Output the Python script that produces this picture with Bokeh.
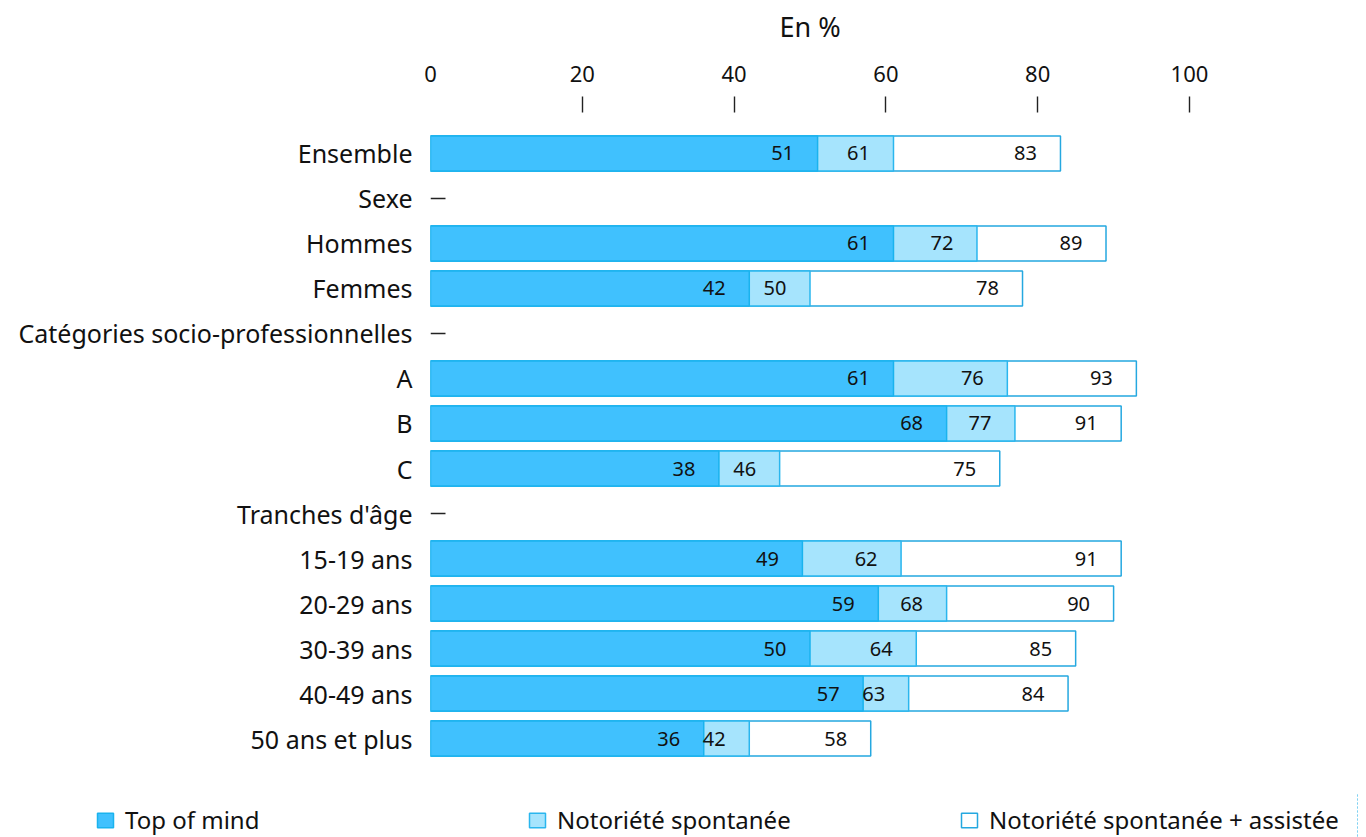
from bokeh.plotting import figure
from bokeh.layouts import column
from bokeh.models import (ColumnDataSource, FactorRange, FixedTicker, Legend, LegendItem,
                          Range1d)
from bokeh.core.properties import value
from bokeh.embed import file_html
from bokeh.resources import INLINE

# ---- data ----
rows = ["Ensemble", "Sexe", "Hommes", "Femmes", "Catégories socio-professionnelles",
        "A", "B", "C", "Tranches d'âge", "15-19 ans", "20-29 ans", "30-39 ans",
        "40-49 ans", "50 ans et plus"]
headers = ["Sexe", "Catégories socio-professionnelles", "Tranches d'âge"]
groups = ["Ensemble", "Hommes", "Femmes", "A", "B", "C", "15-19 ans", "20-29 ans",
          "30-39 ans", "40-49 ans", "50 ans et plus"]
top_of_mind = [51, 61, 42, 61, 68, 38, 49, 59, 50, 57, 36]
spontanee = [61, 72, 50, 76, 77, 46, 62, 68, 64, 63, 42]
assistee = [83, 89, 78, 93, 91, 75, 91, 90, 85, 84, 58]
x_ticks = [0, 20, 40, 60, 80, 100]
series_names = ["Top of mind", "Notoriété spontanée", "Notoriété spontanée + assistée"]

FONT = "Noto Sans"
DARK = "#40c1fe"
DARK_LINE = "#1ab3ee"
LIGHT = "#a6e4fd"
LIGHT_LINE = "#2ab6ee"
WHITE_LINE = "#25a8e0"
W = 1358

src = ColumnDataSource(dict(y=groups, top=top_of_mind, sp=spontanee, tot=assistee))
hdr = ColumnDataSource(dict(y=headers, x=[0] * len(headers)))

p = figure(width=W, height=112 + 667 + 14, output_backend="svg", toolbar_location=None,
           x_range=Range1d(x_ticks[0], x_ticks[-1]),
           y_range=FactorRange(*reversed(rows), range_padding=0.411,
                               range_padding_units="absolute"),
           x_axis_location="above",
           min_border_left=430, min_border_right=W - 430 - 759, min_border_top=112,
           min_border_bottom=14)
p.outline_line_color = None
p.xgrid.visible = False
p.ygrid.visible = False

styles = {"top": (DARK, DARK_LINE), "sp": (LIGHT, LIGHT_LINE), "tot": ("white", WHITE_LINE)}
for col in ["tot", "sp", "top"]:
    fc, lc = styles[col]
    p.hbar(y="y", left=0, right=col, height=0.78, source=src,
           fill_color=fc, line_color=lc, line_width=1.5)

for col in ["top", "sp", "tot"]:
    p.text(x=col, y="y", text=col, source=src, text_align="center",
           text_baseline="middle", x_offset=-35, text_font=value(FONT),
           text_font_size="20px", text_color="#111111")

# header dashes
p.ray(x="x", y="y", length=15, length_units="screen", angle=0, source=hdr,
      line_color="#222222", line_width=1.5)

# top axis
xa = p.xaxis[0]
xa.ticker = FixedTicker(ticks=x_ticks, minor_ticks=x_ticks[1:])
xa.axis_line_color = None
xa.major_tick_line_color = None
xa.major_tick_out = 16
xa.major_tick_in = 0
xa.minor_tick_out = 16
xa.minor_tick_in = 0
xa.minor_tick_line_color = "#222222"
xa.minor_tick_line_width = 1.4
xa.major_label_standoff = 15
xa.major_label_text_font = FONT
xa.major_label_text_font_size = "22px"
xa.major_label_text_color = "#111111"
xa.axis_label = "En %"
xa.axis_label_text_font = FONT
xa.axis_label_text_font_size = "27px"
xa.axis_label_text_font_style = "normal"
xa.axis_label_text_color = "#111111"
xa.axis_label_standoff = 18

ya = p.yaxis[0]
ya.axis_line_color = None
ya.major_tick_line_color = None
ya.major_tick_out = 0
ya.major_tick_in = 0
ya.major_label_standoff = 18
ya.major_label_text_font = FONT
ya.major_label_text_font_size = "25px"
ya.major_label_text_color = "#111111"

# legend strip (separate figure so the legend can start left of the bars);
# its bars lie outside its visible x range, only their legend swatches show
lg = figure(width=W, height=44, output_backend="svg", toolbar_location=None,
            x_range=Range1d(-10, -5), y_range=FactorRange(*groups),
            x_axis_location=None, y_axis_location=None,
            min_border_left=0, min_border_right=0, min_border_top=0, min_border_bottom=0)
lg.outline_line_color = None
lg.xgrid.visible = False
lg.ygrid.visible = False
p.frame_align = False
lg.frame_align = False
leg_r = []
for col in ["top", "sp", "tot"]:
    fc, lc = styles[col]
    leg_r.append(lg.hbar(y="y", left=0, right=col, height=0.5, source=src,
                         fill_color=fc, line_color=lc, line_width=1.5))
legend = Legend(items=[LegendItem(label=n, renderers=[r]) for n, r in zip(series_names, leg_r)],
                orientation="horizontal", location=(95, 1),
                glyph_width=20, glyph_height=18, label_standoff=10,
                label_width=392, spacing=10, padding=0, margin=0,
                border_line_color=None, background_fill_alpha=0,
                label_text_font=FONT, label_text_font_size="24px",
                label_text_color="#111111")
lg.add_layout(legend, "center")

layout = column(p, lg, spacing=0)
open("out.html", "w").write(file_html(layout, INLINE))
